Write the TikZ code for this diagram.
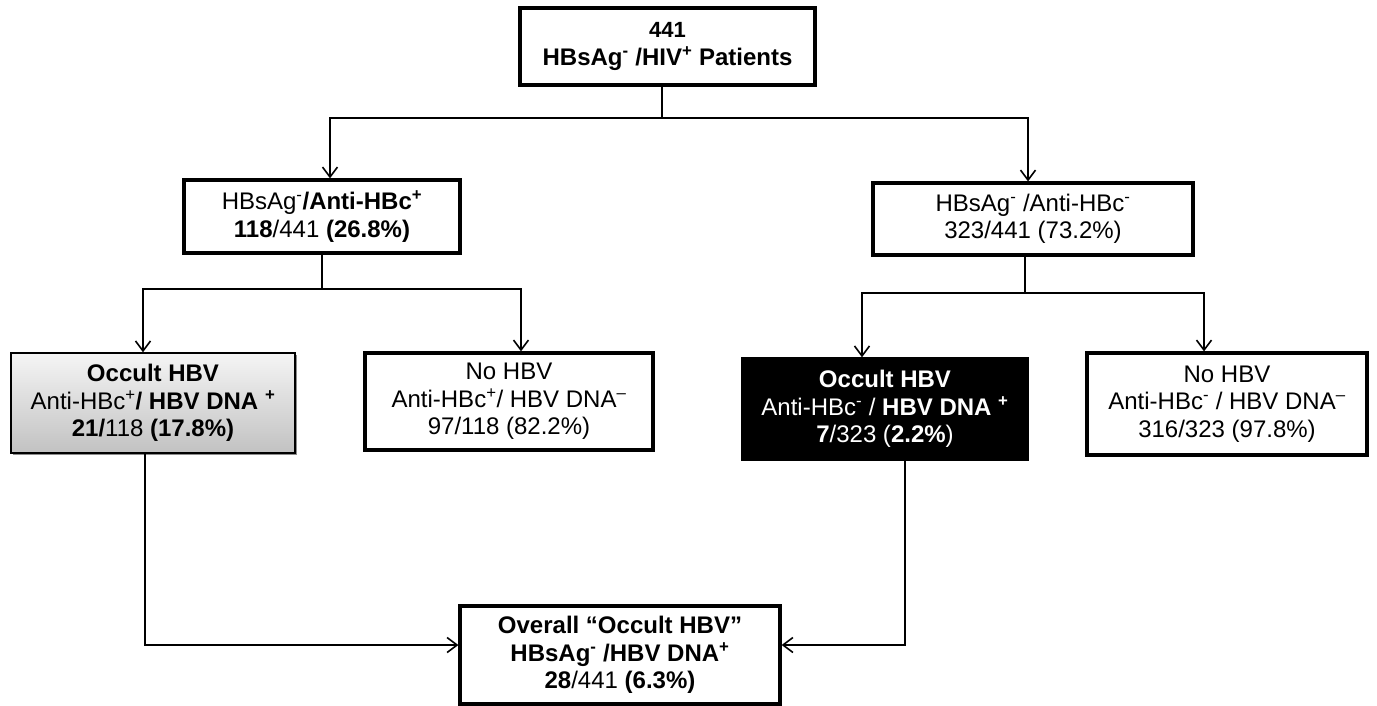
\documentclass[tikz,border=0pt]{standalone}
\usepackage{fontspec}
\setmainfont{Liberation Sans}
\usetikzlibrary{arrows.meta,shadows}
\begin{document}
\begin{tikzpicture}[x=1pt,y=-1pt,
  box/.style={draw=black, line width=3.2pt, align=center, inner sep=0pt,
    font=\fontsize{24}{27.5}\selectfont},
  graybox/.style={box, line width=1.4pt, top color=black!4, bottom color=black!24,
    drop shadow={shadow xshift=2pt,shadow yshift=-2pt,opacity=.45,fill=black}},
  blackbox/.style={box, line width=1.4pt, fill=black, text=white},
  ln/.style={line width=1.6pt},
  arr/.style={line width=1.6pt, -{Straight Barb[length=10pt,width=15pt,line width=1.6pt]}}]
\useasboundingbox (0,0) rectangle (1377,705);

\node[box, minimum width=295pt, minimum height=77pt] (top) at (667.5,46.5)
  {\fontsize{22}{29}\selectfont\textbf{441}\\ \fontsize{24}{28}\selectfont\textbf{HBsAg\textsuperscript{-} /HIV\textsuperscript{+} Patients}};

\node[box, minimum width=276pt, minimum height=73pt] (L1) at (322,216.5)
  {HBsAg\textsuperscript{-}\textbf{/Anti-HBc\textsuperscript{+}}\\ \textbf{118}/441 \textbf{(26.8\%)}};

\node[box, minimum width=320pt, minimum height=72pt] (R1) at (1033,219)
  {HBsAg\textsuperscript{-} /Anti-HBc\textsuperscript{-}\\ 323/441 (73.2\%)};

\node[graybox, minimum width=284pt, minimum height=100pt] (G) at (153,403)
  {\textbf{Occult HBV}\\ Anti-HBc\textsuperscript{+}\textbf{/ HBV DNA \textsuperscript{+}}\\ \textbf{21/}118 \textbf{(17.8\%)}};

\node[box, minimum width=288pt, minimum height=97pt] (N1) at (509,401.5)
  {No HBV\\ Anti-HBc\textsuperscript{+}/ HBV DNA\textsuperscript{--}\\ 97/118 (82.2\%)};

\node[blackbox, minimum width=286pt, minimum height=102pt] (B) at (885,409)
  {\textbf{Occult HBV}\\ Anti-HBc\textsuperscript{-} / \textbf{HBV DNA \textsuperscript{+}}\\ \textbf{7}/323 (\textbf{2.2\%})};

\node[box, minimum width=280pt, minimum height=102pt] (N2) at (1227,404)
  {No HBV\\ Anti-HBc\textsuperscript{-} / HBV DNA\textsuperscript{--}\\ 316/323 (97.8\%)};

\node[box, minimum width=320pt, minimum height=98pt] (O) at (620,655)
  {\textbf{Overall “Occult HBV”}\\ \textbf{HBsAg\textsuperscript{-} /HBV DNA\textsuperscript{+}}\\ \textbf{28}/441 \textbf{(6.3\%)}};

\coordinate (j1) at (662,118);
\draw[ln] ([xshift=-5.5pt]top.south) -- (j1);
\draw[arr] (j1) -| ([xshift=8pt]L1.north);
\draw[arr] (j1) -| ([xshift=-5pt]R1.north);

\coordinate (j2) at (322,289);
\draw[ln] (L1.south) -- (j2);
\draw[arr] (j2) -| ([xshift=-10pt]G.north);
\draw[arr] (j2) -| ([xshift=12pt]N1.north);

\coordinate (j3) at (1025,293);
\draw[ln] ([xshift=-8pt]R1.south) -- (j3);
\draw[arr] (j3) -| ([xshift=-23pt]B.north);
\draw[arr] (j3) -| ([xshift=-23pt]N2.north);

\draw[arr] ([xshift=-8pt]G.south) |- ([yshift=10pt]O.west);
\draw[arr] ([xshift=20pt]B.south) |- ([yshift=10pt]O.east);
\end{tikzpicture}
\end{document}
